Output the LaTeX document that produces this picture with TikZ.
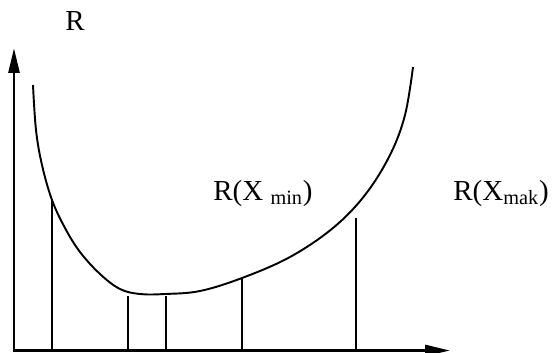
\documentclass[tikz,border=0pt]{standalone}
\usepackage{fontspec}
\setmainfont{Liberation Serif}
\usetikzlibrary{arrows.meta}

\begin{document}
\begin{tikzpicture}[x=0.02cm, y=-0.02cm,
  axis/.style={line width=1.6pt, -{Triangle[length=0.5cm, width=0.22cm]}},
  level/.style={line width=1.2pt},
  lbl/.style={font=\fontsize{16.5}{18}\selectfont, inner sep=0pt}]
  \useasboundingbox (0,0) rectangle (554,352);
  \coordinate (O) at (14,350.5);
  \coordinate (Ytop) at (14,48);
  \coordinate (Xend) at (450,350.5);
  \draw[axis] (14,352) -- (Ytop);
  \draw[axis] (O) -- (Xend);
  % the curve
  \draw[line width=1.1pt] plot[smooth, tension=0.6] coordinates {
    (33,85) (36,130) (42,165) (52,200) (65,228) (80,252) (100,274)
    (120,289) (140,294) (165,294) (200,291) (242,278) (290,257)
    (333,228) (365,195) (390,155) (405,115) (413,67)};
  % ordinates
  \coordinate (A) at (52,200);
  \coordinate (B) at (128,296);
  \coordinate (C) at (166,296);
  \coordinate (D) at (242,278);
  \coordinate (E) at (356,218);
  \foreach \p in {A,B,C,D,E}
    \draw[level] (\p) -- (\p |- O);
  \node[lbl, anchor=base west] (rmin) at (213,200) {R(X $_{\mathrm{min}}$)};
  \node[lbl, anchor=base west] (rmak) at (453,200) {R(X$_{\mathrm{mak}}$)};
  \node[lbl, anchor=base] (r) at (75,30) {R};
\end{tikzpicture}
\end{document}
